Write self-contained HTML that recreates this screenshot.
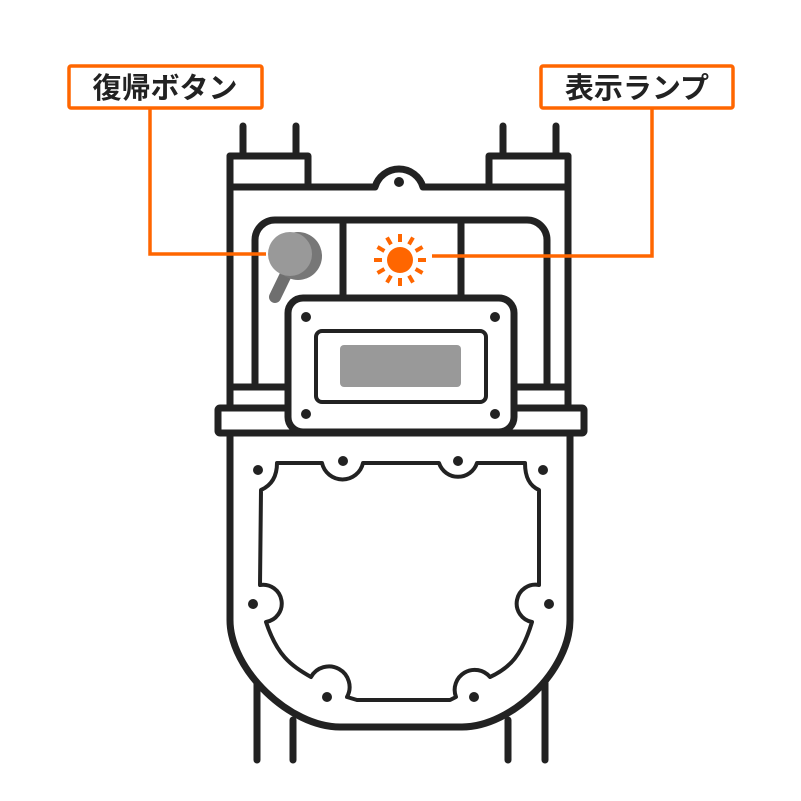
<!DOCTYPE html>
<html><head><meta charset="utf-8"><style>
html,body{margin:0;padding:0;background:#fff;}
svg{display:block}
text{font-family:"Liberation Sans","Noto Sans CJK JP",sans-serif;font-weight:bold;fill:#222;}
</style></head><body>
<svg width="801" height="801" viewBox="0 0 801 801" xmlns="http://www.w3.org/2000/svg">
<g fill="none" stroke="#222" stroke-width="7" stroke-linecap="round" stroke-linejoin="round">
  <line x1="243" y1="126" x2="243" y2="156"/><line x1="296" y1="126" x2="296" y2="156"/>
  <line x1="503" y1="126" x2="503" y2="156"/><line x1="556" y1="126" x2="556" y2="156"/>
  <path d="M230 187 V156 H308 V187"/>
  <path d="M489 187 V156 H568 V187"/>
  <path d="M230 187 H375 A25 25 0 0 1 423 187 H568"/>
  <line x1="230" y1="156" x2="230" y2="408"/>
  <line x1="568" y1="156" x2="568" y2="408"/>
  <path d="M255 383 V240 A20 20 0 0 1 275 220 H527 A20 20 0 0 1 547 240 V383"/>
  <line x1="343" y1="220" x2="343" y2="296"/><line x1="461" y1="220" x2="461" y2="296"/>
  <path d="M230 387 H290 M512 387 H568"/>
  <rect x="218" y="408" width="366" height="25" rx="2"/>
  <path d="M230 433 V620 C230 670 290 727 340 727 H462 C512 727 570 670 570 620 V433"/>
  <line x1="257" y1="683" x2="257" y2="760"/><line x1="293" y1="720" x2="293" y2="760"/>
  <line x1="508" y1="720" x2="508" y2="760"/><line x1="545" y1="683" x2="545" y2="760"/>
  <rect x="288" y="298" width="226" height="134" rx="15" fill="#fff"/>
</g>
<rect x="316" y="331" width="170" height="71" rx="6" fill="none" stroke="#222" stroke-width="4"/>
<rect x="340" y="345" width="121" height="42" rx="4" fill="#999"/>
<g fill="#222">
  <circle cx="399" cy="182" r="5"/>
  <circle cx="306" cy="317" r="5"/><circle cx="495" cy="317" r="5"/>
  <circle cx="306" cy="414" r="5"/><circle cx="495" cy="414" r="5"/>
  <circle cx="258" cy="470" r="5"/><circle cx="343" cy="461" r="5"/>
  <circle cx="458" cy="461" r="5"/><circle cx="543" cy="470" r="5"/>
  <circle cx="253" cy="604" r="5"/><circle cx="549" cy="604" r="5"/>
  <circle cx="327" cy="697" r="5"/><circle cx="474" cy="697" r="5"/>
</g>
<path d="M277 463 H322 A21 21 0 0 0 363 463 H439 A20 20 0 0 0 477 463 H525 C525 478 530 486 539 490 L539 585 A18 18 0 0 0 532 622 C522 655 510 668 490 677 A20 20 0 0 0 456 697 L450 700 H357 L347 697 A20 20 0 0 0 311 677 C290 665 277 655 266 622 A18 18 0 0 0 260 585 L261 490 C270 486 277 478 277 463 Z" fill="none" stroke="#222" stroke-width="4" stroke-linejoin="round"/>
<line x1="290" y1="266" x2="275" y2="297" stroke="#6f6f6f" stroke-width="12" stroke-linecap="round"/>
<circle cx="298" cy="256" r="24" fill="#777"/>
<circle cx="290" cy="254" r="22" fill="#999"/>
<circle cx="400" cy="260" r="13" fill="#ff6600"/>
<g stroke="#ff6600" stroke-width="4" transform="translate(400 260)">
  <line x1="0" y1="-18" x2="0" y2="-26"/><line x1="0" y1="18" x2="0" y2="26"/>
  <line x1="-18" y1="0" x2="-26" y2="0"/><line x1="18" y1="0" x2="26" y2="0"/>
  <g transform="rotate(30)"><line x1="0" y1="-18" x2="0" y2="-26"/><line x1="0" y1="18" x2="0" y2="26"/><line x1="-18" y1="0" x2="-26" y2="0"/><line x1="18" y1="0" x2="26" y2="0"/></g>
  <g transform="rotate(60)"><line x1="0" y1="-18" x2="0" y2="-26"/><line x1="0" y1="18" x2="0" y2="26"/><line x1="-18" y1="0" x2="-26" y2="0"/><line x1="18" y1="0" x2="26" y2="0"/></g>
</g>
<g fill="none" stroke="#ff6600" stroke-width="3.5">
  <path d="M150 108 V254 H266"/>
  <path d="M652 108 V256 H432"/>
  <rect x="69" y="66" width="193" height="42" rx="2" fill="#fff"/>
  <rect x="541" y="66" width="192" height="42" rx="2" fill="#fff"/>
</g>
<text x="165" y="98" font-size="29" text-anchor="middle">復帰ボタン</text>
<text x="637" y="98" font-size="29" text-anchor="middle">表示ランプ</text>
</svg>
</body></html>
